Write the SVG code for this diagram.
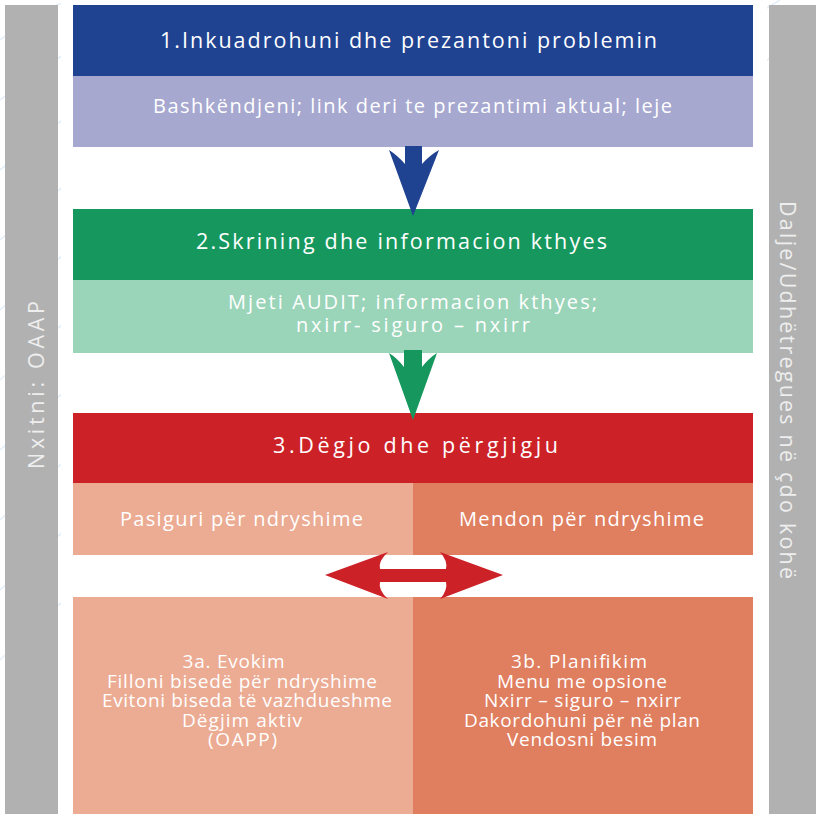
<svg xmlns="http://www.w3.org/2000/svg" width="816" height="814" viewBox="0 0 816 814">
<style>
.t{font-family:"Open Sans","Noto Sans",sans-serif;fill:#ffffff;text-anchor:middle}
.h{font-size:21.5px}
.s{font-size:20px}
.b{font-size:19px}
.side{font-family:"Open Sans","Noto Sans",sans-serif;fill:#eeeeee;font-size:21.5px;text-anchor:middle}
</style>
<rect width="816" height="814" fill="#ffffff"/>
<g stroke="#e4eef8" stroke-width="1.5" fill="none">
<path d="M0 40 Q40 10 70 0 M0 100 Q80 40 150 0 M0 170 Q120 70 240 0 M0 240 Q160 100 330 0 M0 310 Q200 130 420 0 M0 380 Q240 160 510 0 M0 450 Q280 190 600 0 M0 520 Q320 220 690 0 M0 590 Q360 250 780 0 M0 660 Q400 280 816 30"/>
</g>
<rect x="61" y="0" width="706" height="814" fill="#ffffff"/>
<g id="leftbar">
<rect x="5" y="5" width="53" height="809" fill="#b1b1b1"/>
<text class="side" transform="translate(44 385) rotate(-90)" textLength="168" lengthAdjust="spacing">Nxitni: OAAP</text>
</g>
<g id="rightbar">
<rect x="769" y="5" width="47" height="809" fill="#b1b1b1"/>
<text class="side" transform="translate(780 390) rotate(90)" textLength="378" lengthAdjust="spacing">Dalje/Udhëtregues në çdo kohë</text>
</g>
<g id="step1">
<rect x="73" y="5" width="680" height="71" fill="#1f4291"/>
<text class="t h" x="408.5" y="48" textLength="497" lengthAdjust="spacing">1.Inkuadrohuni dhe prezantoni problemin</text>
<rect x="73" y="76" width="680" height="71" fill="#a6a8d0"/>
<text class="t s" x="412.5" y="113" textLength="519" lengthAdjust="spacing">Bashkëndjeni; link deri te prezantimi aktual; leje</text>
</g>
<g id="step2">
<rect x="73" y="209" width="680" height="71" fill="#16975e"/>
<text class="t h" x="401.5" y="249" textLength="411" lengthAdjust="spacing">2.Skrining dhe informacion kthyes</text>
<rect x="73" y="280" width="680" height="73" fill="#9ad4b9"/>
<text class="t s" x="412.5" y="309" textLength="369" lengthAdjust="spacing">Mjeti AUDIT; informacion kthyes;</text>
<text class="t s" x="413" y="332" textLength="234" lengthAdjust="spacing">nxirr- siguro – nxirr</text>
</g>
<g id="step3">
<rect x="73" y="413" width="680" height="70" fill="#cd2128"/>
<text class="t h" x="415.5" y="453" textLength="285" lengthAdjust="spacing">3.Dëgjo dhe përgjigju</text>
</g>
<g id="unsure">
<rect x="73" y="483" width="340" height="72" fill="#ecab93"/>
<text class="t s" x="241.5" y="526" textLength="243" lengthAdjust="spacing">Pasiguri për ndryshime</text>
</g>
<g id="thinking">
<rect x="413" y="483" width="340" height="72" fill="#e07e60"/>
<text class="t s" x="581.5" y="526" textLength="245" lengthAdjust="spacing">Mendon për ndryshime</text>
</g>
<g id="evoke">
<rect x="73" y="597" width="340" height="217" fill="#ecab93"/>
<text class="t b" x="233.5" y="668" textLength="102" lengthAdjust="spacing">3a. Evokim</text>
<text class="t b" x="242" y="687.5" textLength="270" lengthAdjust="spacing">Filloni bisedë për ndryshime</text>
<text class="t b" x="247" y="707" textLength="290" lengthAdjust="spacing">Evitoni biseda të vazhdueshme</text>
<text class="t b" x="242" y="726.5" textLength="120" lengthAdjust="spacing">Dëgjim aktiv</text>
<text class="t b" x="242.5" y="746" textLength="69" lengthAdjust="spacing">(OAPP)</text>
</g>
<g id="plan">
<rect x="413" y="597" width="340" height="217" fill="#e07e60"/>
<text class="t b" x="579" y="668" textLength="136" lengthAdjust="spacing">3b. Planifikim</text>
<text class="t b" x="582" y="687.5" textLength="170" lengthAdjust="spacing">Menu me opsione</text>
<text class="t b" x="582.5" y="707" textLength="197" lengthAdjust="spacing">Nxirr – siguro – nxirr</text>
<text class="t b" x="582" y="726.5" textLength="236" lengthAdjust="spacing">Dakordohuni për në plan</text>
<text class="t b" x="582" y="746" textLength="150" lengthAdjust="spacing">Vendosni besim</text>
</g>
<g id="connectors">
<path d="M405 146 L422 146 L422 164 Q430 155 439 150 L413 216 L389 150 Q397 155 405 164 Z" fill="#1f4291"/>
<path d="M404 350 L422 350 L422 367 Q429 358 437 353 L413 420 L389 353 Q397 358 404 367 Z" fill="#16975e"/>
<path d="M325 575 L388 552 Q378 561 380 569 L446 569 Q448 561 440 552 L503 575 L440 599 Q448 590 446 582 L380 582 Q378 590 388 599 Z" fill="#cd2128"/>
</g>
</svg>
